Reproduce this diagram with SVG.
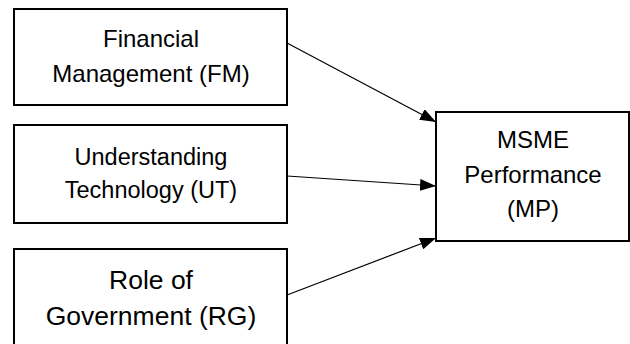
<svg xmlns="http://www.w3.org/2000/svg" width="630" height="344" viewBox="0 0 630 344">
<defs>
<marker id="ah" markerUnits="userSpaceOnUse" markerWidth="16" markerHeight="12" refX="16" refY="6" orient="auto">
<path d="M0,0 L16,6 L0,12 z" fill="#000"/>
</marker>
<style>
.box{fill:#fff;stroke:#000;stroke-width:2}
.t{font-family:"Liberation Sans",Arial,sans-serif;font-size:24px;fill:#000;text-anchor:middle}
.t2{font-size:26.5px}
.c{stroke:#000;stroke-width:1.2;fill:none;marker-end:url(#ah)}
</style>
</defs>
<rect width="630" height="344" fill="#fff"/>
<g id="fm">
<rect class="box" x="14" y="9" width="273" height="96"/>
<text class="t" x="151" y="47">Financial</text>
<text class="t" x="151" y="82">Management (FM)</text>
</g>
<g id="ut">
<rect class="box" x="14" y="125" width="273" height="98"/>
<text class="t" x="151" y="165" style="font-size:23.5px">Understanding</text>
<text class="t" x="151" y="198" style="font-size:23.5px">Technology (UT)</text>
</g>
<g id="rg">
<rect class="box" x="14" y="249" width="273" height="110"/>
<text class="t t2" x="151" y="289">Role of</text>
<text class="t t2" x="151" y="325">Government (RG)</text>
</g>
<g id="mp">
<rect class="box" x="436" y="112" width="193" height="129"/>
<text class="t" x="533" y="148">MSME</text>
<text class="t" x="533" y="183">Performance</text>
<text class="t" x="533" y="217">(MP)</text>
</g>
<g id="connectors">
<line class="c" x1="287" y1="43" x2="436" y2="122"/>
<line class="c" x1="287" y1="176" x2="436" y2="186"/>
<line class="c" x1="287" y1="295" x2="436" y2="238"/>
</g>
</svg>
